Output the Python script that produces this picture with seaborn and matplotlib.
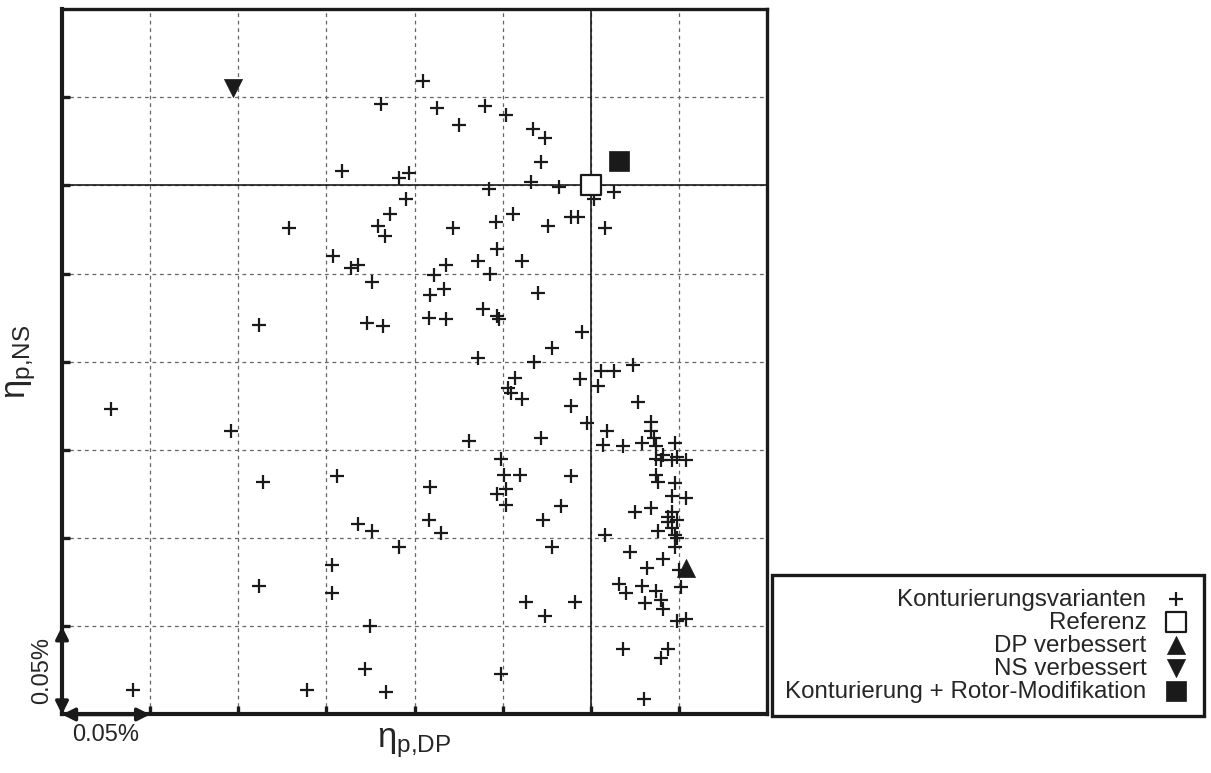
import matplotlib
matplotlib.use("Agg")
import matplotlib.pyplot as plt
import seaborn as sns
import pandas as pd

# Delta eta relative to the Referenz, in %
dp_varianten = [
    -0.119, -0.141, -0.109, -0.103, -0.105, -0.114, -0.121, -0.117, -0.171, -0.095,
    -0.087, -0.060, -0.048, -0.075, -0.033, -0.026, -0.028, -0.034, -0.058, -0.018,
    0.013, 0.002, -0.044, -0.054, -0.078, -0.024, -0.011, -0.007, 0.008, -0.053,
    -0.146, -0.136, -0.132, -0.124, -0.188, -0.127, -0.118, -0.272, -0.204, -0.186,
    -0.144, -0.082, -0.064, -0.039, -0.089, -0.057, -0.091, -0.083, -0.030, -0.061,
    -0.053, -0.052, -0.092, -0.082, -0.005, -0.022, -0.064, -0.032, 0.006, 0.013,
    0.024, -0.043, -0.047, -0.045, -0.039, -0.006, 0.004, -0.011, 0.027, -0.002,
    0.009, 0.034, 0.034, 0.036, -0.069, -0.028, 0.007, 0.018, 0.029, 0.037,
    0.048, -0.051, 0.037, 0.041, 0.040, 0.046, 0.049, 0.054, -0.049, -0.040,
    -0.011, -0.091, 0.037, 0.038, 0.048, -0.048, -0.053, -0.048, -0.017, -0.092,
    -0.085, -0.027, -0.022, -0.037, -0.009, -0.026, -0.051, 0.008, 0.046, 0.054,
    0.025, 0.034, 0.044, 0.046, 0.044, 0.049, 0.046, 0.038, 0.048, 0.049,
    0.048, 0.022, 0.041, 0.032, 0.050, 0.051, 0.016, 0.020, 0.029, 0.037,
    0.031, 0.040, 0.041, 0.049, 0.054, 0.018, 0.044, 0.040, 0.030, -0.132,
    -0.124, -0.109, -0.147, -0.188, -0.147, -0.125, -0.128, -0.260, -0.161, -0.116,
]
ns_varianten = [
    0.046, 0.008, 0.004, 0.007, -0.008, -0.016, -0.023, -0.029, -0.024, 0.059,
    0.044, 0.045, 0.040, 0.034, 0.032, 0.027, 0.013, 0.002, -0.002, -0.001,
    -0.004, -0.008, -0.016, -0.021, -0.024, -0.023, -0.018, -0.018, -0.024, -0.036,
    -0.040, -0.047, -0.045, -0.055, -0.079, -0.078, -0.080, -0.127, -0.139, -0.168,
    -0.165, -0.045, -0.043, -0.043, -0.051, -0.050, -0.062, -0.059, -0.061, -0.070,
    -0.074, -0.076, -0.075, -0.076, -0.083, -0.092, -0.098, -0.100, -0.105, -0.105,
    -0.102, -0.109, -0.115, -0.118, -0.121, -0.110, -0.114, -0.125, -0.123, -0.135,
    -0.139, -0.134, -0.139, -0.143, -0.145, -0.143, -0.147, -0.148, -0.146, -0.148,
    -0.146, -0.155, -0.155, -0.153, -0.156, -0.156, -0.154, -0.156, -0.164, -0.164,
    -0.165, -0.171, -0.164, -0.168, -0.169, -0.172, -0.175, -0.181, -0.182, -0.190,
    -0.197, -0.190, -0.205, -0.236, -0.236, -0.244, -0.277, -0.198, -0.176, -0.177,
    -0.185, -0.183, -0.188, -0.185, -0.191, -0.190, -0.194, -0.196, -0.198, -0.200,
    -0.205, -0.208, -0.212, -0.217, -0.218, -0.228, -0.226, -0.231, -0.227, -0.230,
    -0.237, -0.235, -0.240, -0.247, -0.246, -0.263, -0.263, -0.268, -0.291, -0.192,
    -0.196, -0.205, -0.215, -0.227, -0.231, -0.250, -0.274, -0.286, -0.286, -0.287,
]
ref_dp, ref_ns = [0.0], [0.0]
dpv_dp, dpv_ns = [0.054], [-0.217]
nsv_dp, nsv_ns = [-0.203], [0.055]
rotor_dp, rotor_ns = [0.016], [0.014]

grid_ticks = [-0.25, -0.20, -0.15, -0.10, -0.05, 0.0, 0.05]
lim = (-0.30, 0.10)
scale_step = 0.05

sns.set_theme(style="white")
plt.rcParams["font.family"] = ["Liberation Sans", "DejaVu Sans"]
plt.rcParams["mathtext.default"] = "regular"

fig = plt.figure(figsize=(12.11, 7.73), dpi=100)
ax = fig.add_axes([0.0512, 0.0757, 0.5822, 0.9127])

df = pd.DataFrame({"dp": dp_varianten, "ns": ns_varianten})
sns.scatterplot(data=df, x="dp", y="ns", marker="+", color="k", s=95, linewidth=1.6,
                ax=ax, label="Konturierungsvarianten", zorder=3)
sns.scatterplot(x=ref_dp, y=ref_ns, marker="s", s=215, color="white", edgecolor="k",
                linewidth=1.6, ax=ax, label="Referenz", zorder=4)
sns.scatterplot(x=dpv_dp, y=dpv_ns, marker="^", s=170, color="k", edgecolor="k",
                linewidth=0.5, ax=ax, label="DP verbessert", zorder=4)
sns.scatterplot(x=nsv_dp, y=nsv_ns, marker="v", s=170, color="k", edgecolor="k",
                linewidth=0.5, ax=ax, label="NS verbessert", zorder=4)
sns.scatterplot(x=rotor_dp, y=rotor_ns, marker="s", s=215, color="k", edgecolor="k",
                linewidth=0.5, ax=ax, label="Konturierung + Rotor-Modifikation", zorder=4)

ax.axvline(0, color="k", lw=1.2, zorder=2)
ax.axhline(0, color="k", lw=1.2, zorder=2)

ax.set_xlim(lim)
ax.set_ylim(lim)
ax.set_xticks(grid_ticks)
ax.set_yticks(grid_ticks)
ax.set_xticklabels([])
ax.set_yticklabels([])
ax.grid(True, linestyle=(0, (3, 3)), color="0.4", linewidth=0.9)
ax.set_axisbelow(True)
ax.tick_params(direction="in", length=6, width=2.4, color="k",
               bottom=True, left=True, top=False, right=False)
for side in ["left", "bottom"]:
    ax.spines[side].set_linewidth(3.0)
for side in ["top", "right"]:
    ax.spines[side].set_linewidth(2.4)
for sp in ax.spines.values():
    sp.set_color("k")
    sp.set_zorder(5)

ax.set_xlabel("η$_{p{,}DP}$", fontsize=25)
ax.set_ylabel("η$_{p{,}NS}$", fontsize=25)
ax.xaxis.set_label_coords(0.5, -0.016)
ax.yaxis.set_label_coords(-0.034, 0.5)

# scale arrows
arrow = dict(arrowstyle="<|-|>", color="k", lw=2.5, shrinkA=0, shrinkB=0, mutation_scale=19)
ax.annotate("", xy=(lim[0] + scale_step, lim[0]), xytext=(lim[0], lim[0]),
            arrowprops=arrow, annotation_clip=False, zorder=6)
ax.annotate("", xy=(lim[0], lim[0] + scale_step), xytext=(lim[0], lim[0]),
            arrowprops=arrow, annotation_clip=False, zorder=6)
ax.annotate("0.05%", xy=(lim[0] + scale_step / 2, lim[0]), xytext=(0, -15),
            textcoords="offset points", ha="center", va="center", fontsize=17,
            annotation_clip=False)
ax.annotate("0.05%", xy=(lim[0], lim[0] + scale_step / 2), xytext=(-14, 0),
            textcoords="offset points", ha="center", va="center", fontsize=17,
            rotation=90, annotation_clip=False)

leg = ax.legend(loc="lower right", bbox_to_anchor=(0.994, 0.074),
                bbox_transform=fig.transFigure, markerfirst=False, fontsize=17.4,
                frameon=True, fancybox=False, framealpha=1, edgecolor="k",
                borderaxespad=0, labelspacing=0.04, handletextpad=0.62,
                handlelength=1.2, borderpad=0.55)
leg.get_frame().set_linewidth(2.4)

fig.savefig("out.png", dpi=100)
